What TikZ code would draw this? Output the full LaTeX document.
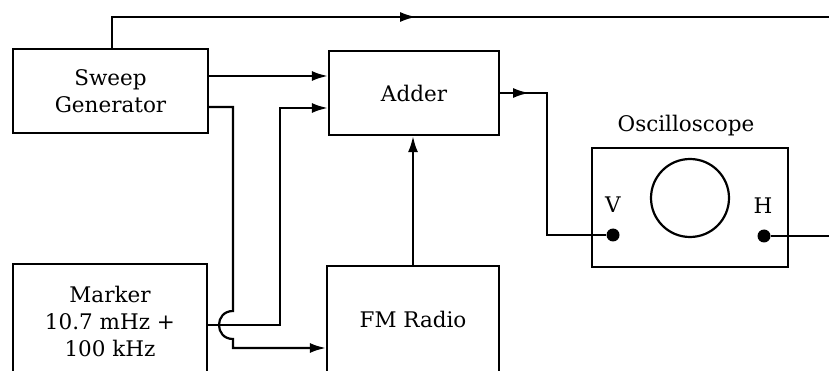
\documentclass[tikz,border=0pt]{standalone}
\usepackage{fontspec}
\setmainfont{DejaVu Serif}
\usetikzlibrary{arrows.meta,decorations.markings}
\begin{document}
\begin{tikzpicture}[x=1pt,y=-1pt,
  txt/.style={font=\fontsize{21.5}{27}\selectfont},
  blk/.style={draw,line width=2.2pt,inner sep=0pt,align=center,txt},
  wire/.style={line width=2.2pt},
  arr/.style={wire,-{Latex[length=16pt,width=10pt]}},
  midarr/.style={wire,postaction={decorate},
    decoration={markings,mark=at position #1 with {\arrow{Latex[length=16pt,width=10pt]}}}},
  port/.style={circle,fill,inner sep=0pt,minimum size=13pt},
  lbl/.style={txt,inner sep=0pt}]
\useasboundingbox (0,0) rectangle (829,371);
\clip (0,0) rectangle (829,371);
% blocks
\node[blk,minimum width=195pt,minimum height=84pt] (sw) at (110.5,91) {Sweep\\Generator};
\node[blk,minimum width=170pt,minimum height=84pt] (ad) at (414,93) {Adder};
\node[blk,minimum width=194pt,minimum height=114pt] (mk) at (110,321) {Marker\\10.7 mHz +\\100 kHz};
\node[blk,minimum width=172pt,minimum height=106pt] (fm) at (413,319) {FM Radio};
% oscilloscope
\node[draw,line width=2.2pt,minimum width=196pt,minimum height=119pt,inner sep=0pt] (os) at (690,207.5) {};
\node[lbl,anchor=base] (ost) at (686,132) {Oscilloscope};
\node[draw,circle,line width=2.2pt,minimum size=78pt,inner sep=0pt] (scr) at (690,198) {};
\node[lbl] (vl) at (613,205) {V};
\node[lbl] (hl) at (763,206) {H};
\node[port] (vd) at (613,235) {};
\node[port] (hd) at (764,236) {};
% helper coordinates
\coordinate (t1) at (112,17);
\coordinate (eR) at (829,17);
\coordinate (eH) at (829,236);
\coordinate (y76) at (0,76);
\coordinate (y107) at (0,107);
\coordinate (y108) at (0,108);
\coordinate (y325) at (0,325);
\coordinate (y348) at (0,348);
\coordinate (c1) at (547,93);
% connectors
\draw[midarr=335pt] (t1 |- sw.north) -- (t1) -- (eR);
\draw[arr] (sw.east |- y76) -- (ad.west |- y76);
\draw[arr] (sw.east |- y107) -- (233,107) -- (233,311)
  .. controls (214.3,311) and (214.3,339) .. (233,339) -- (233,348) -- (fm.west |- y348);
\draw[arr] (mk.east |- y325) -- (280,325) -- (280,108) -- (ad.west |- y108);
\draw[arr] (fm.north) -- (fm.north |- ad.south);
\draw[midarr=29pt] (ad.east) -- (c1) |- (vd);
\draw[wire] (hd) -- (eH);
\end{tikzpicture}
\end{document}
